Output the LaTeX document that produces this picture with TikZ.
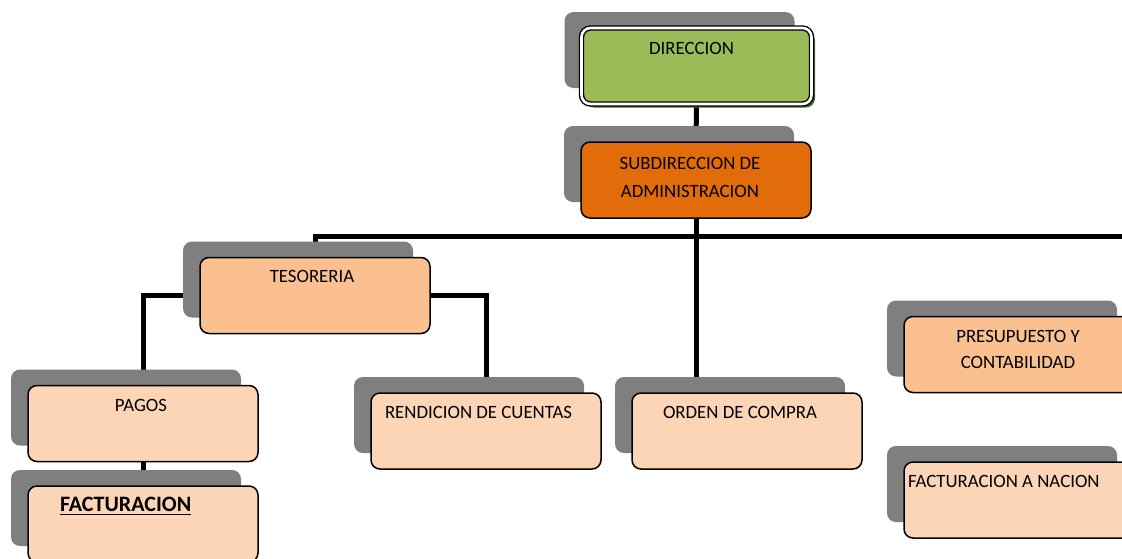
\documentclass[tikz,border=0pt]{standalone}
\usepackage{fontspec}
\setmainfont{Carlito}
\usetikzlibrary{shadows}
\pgfdeclarelayer{background}
\pgfsetlayers{background,main}
\definecolor{dirgreen}{HTML}{9BBB59}
\definecolor{dirshadow}{HTML}{4F6228}
\definecolor{suborange}{HTML}{E36C0A}
\definecolor{midpeach}{HTML}{FAC090}
\definecolor{lightpeach}{HTML}{FBD5B5}
\definecolor{shadowgray}{HTML}{7F7F7F}
\newcommand{\inbox}[3]{\parbox[c][76pt][t]{230pt}{\vspace*{#1}\noindent\hspace*{#2}\parbox[t]{230pt}{#3}}}
\newcommand{\thickul}[1]{\setbox0\hbox{#1}\rlap{\rule[-3.5pt]{\wd0}{1.8pt}}\box0}
\begin{document}
\begin{tikzpicture}[x=1pt,y=-1pt,
  basebox/.style={rounded corners=9pt, draw=black, line width=1.5pt, inner sep=0pt,
    minimum width=230pt, minimum height=76pt, font=\fontsize{18.8}{28}\selectfont},
  orgbox/.style={basebox, general shadow={fill=shadowgray, shadow xshift=-17pt, shadow yshift=16pt}},
  dirbox/.style={basebox, minimum width=226pt, minimum height=73pt, line width=1.4pt,
    double=white, double distance=2.6pt,
    general shadow={fill=shadowgray, shadow xshift=-17pt, shadow yshift=16pt},
    general shadow={fill=dirshadow, shadow xshift=3.5pt, shadow yshift=-3.5pt}},
  conn/.style={line width=5pt, draw=black}]
\useasboundingbox (0,0) rectangle (1122,558);
\clip (0,0) rectangle (1122,558);

\node[dirbox, fill=dirgreen] (dir) at (696.5,66) {\inbox{14pt}{-5pt}{\centering DIRECCION}};
\node[orgbox, fill=suborange] (sub) at (696,180) {\inbox{15pt}{-6pt}{\centering SUBDIRECCION DE\\ADMINISTRACION}};
\node[orgbox, fill=midpeach] (tes) at (315,295.5) {\inbox{13pt}{-3pt}{\centering TESORERIA}};
\node[orgbox, fill=lightpeach] (pagos) at (143,423.5) {\inbox{14pt}{-2pt}{\centering PAGOS}};
\node[orgbox, fill=lightpeach] (fact) at (143,524) {\inbox{11.5pt}{32pt}{\fontsize{22}{26}\selectfont\textbf{\thickul{FACTURACION}}}};
\node[orgbox, fill=lightpeach] (rend) at (486,431) {\inbox{13pt}{14pt}{RENDICION DE CUENTAS}};
\node[orgbox, fill=lightpeach] (orden) at (747,431) {\inbox{13pt}{31pt}{ORDEN DE COMPRA}};
\node[orgbox, fill=midpeach] (presup) at (1019,354.5) {\fontsize{18.8}{26}\selectfont\inbox{14pt}{-1pt}{\centering PRESUPUESTO Y\\CONTABILIDAD}};
\node[orgbox, fill=lightpeach] (nacion) at (1019,500) {\inbox{13pt}{4pt}{FACTURACION A NACION}};

\coordinate (hbarright) at (1122,236);
\begin{pgfonlayer}{background}
\draw[conn] (dir.south) -- (sub.north);
\draw[conn] (sub.south) -- (sub.south |- orden.north);
\draw[conn] (tes.north) |- (hbarright);
\draw[conn] (tes.west) -| (pagos.north);
\draw[conn] (tes.east) -| (rend.north);
\draw[conn] (pagos.south) -- (fact.north);
\end{pgfonlayer}
\end{tikzpicture}
\end{document}
